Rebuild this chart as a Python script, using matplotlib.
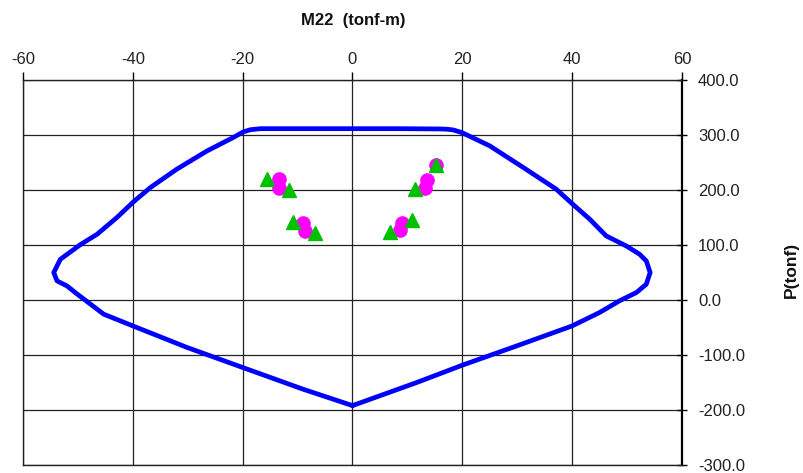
import matplotlib
matplotlib.use("Agg")
import matplotlib.pyplot as plt

plt.rcParams['font.family'] = ['Liberation Sans', 'DejaVu Sans']
plt.rcParams['axes.unicode_minus'] = False

# Interaction diagram outline (M22 in tonf-m, P in tonf)
curve_m = [0.0, 11.7, 20.0, 29.9, 40.0, 45.0, 48.6, 51.7, 53.5, 54.2, 53.5, 52.3,
           49.9, 46.2, 43.2, 40.1, 37.1, 31.1, 25.0, 19.9, 18.3, 17.2, 15.9, 8.6,
           0.0, -8.6, -16.8, -18.6, -19.9, -21.7, -26.5, -32.0, -36.8, -39.9,
           -42.9, -46.5, -49.5, -53.2, -54.4, -53.8, -52.0, -50.1, -45.3, -40.0,
           -30.1, -20.0, -9.0, 0.0]
curve_p = [-192.0, -150.0, -118.5, -83.5, -47.1, -22.7, -1.6, 13.6, 28.7, 50.0,
           71.0, 83.0, 98.0, 116.5, 146.9, 174.2, 201.5, 240.9, 280.2, 304.5,
           309.3, 310.5, 311.0, 311.5, 311.5, 311.5, 311.5, 309.6, 305.6, 295.5,
           271.0, 237.8, 204.5, 178.4, 150.0, 119.6, 101.0, 74.0, 50.0, 34.7,
           25.6, 10.5, -25.8, -47.1, -86.4, -122.7, -162.2, -192.0]

# Demand points
circle_m = [-13.4, -13.3, -8.95, -8.7, 15.2, 13.6, 13.2, 8.95, 8.6]
circle_p = [219.6, 204.5, 139.6, 125.6, 245.0, 218.4, 204.5, 139.6, 127.5]
tri_m = [-15.5, -11.5, -10.9, -6.8, 15.2, 11.4, 10.8, 6.8]
tri_p = [219.6, 200.2, 142.0, 122.7, 245.0, 201.5, 145.6, 123.8]

x_ticks = [-60, -40, -20, 0, 20, 40, 60]
y_ticks = [400, 300, 200, 100, 0, -100, -200, -300]

fig = plt.figure(figsize=(8.04, 4.73), dpi=100)
ax = fig.add_axes([23 / 804, 1 - 465 / 473, 659 / 804, 385 / 473])

ax.plot(curve_m, curve_p, color='#0000FF', lw=3.4, solid_joinstyle='round',
        solid_capstyle='round', zorder=3)
ax.plot(circle_m, circle_p, 'o', color='#FF00FF', ms=9.5, mec='#FF00FF', zorder=4)
ax.plot(tri_m, tri_p, '^', color='#00C000', ms=10.5, mec='#00C000', zorder=5)

ax.set_xlim(-60, 60)
ax.set_ylim(-300, 400)
ax.set_xticks(x_ticks)
ax.set_yticks(y_ticks)
ax.set_yticklabels([f"{v:.1f}" for v in y_ticks])

ax.xaxis.tick_top()
ax.yaxis.tick_right()
ax.tick_params(axis='x', direction='out', length=6, width=1, labelsize=12,
               labelcolor='#222222', pad=3)
ax.tick_params(axis='y', direction='inout', length=7, width=1, labelsize=12,
               labelcolor='#222222', pad=8)

ax.grid(True, color='#222222', lw=0.9)
ax.set_axisbelow(True)
for side in ['left', 'bottom', 'top']:
    ax.spines[side].set_color('#222222')
    ax.spines[side].set_linewidth(1.0)
ax.spines['right'].set_color('#000000')
ax.spines['right'].set_linewidth(1.6)

fig.text(353 / 804, 1 - 20 / 473, 'M22  (tonf-m)', ha='center', va='center',
         fontsize=12, fontweight='bold', color='#111111')
fig.text(791 / 804, 1 - 270 / 473, 'P(tonf)', ha='center', va='center',
         rotation=90, fontsize=12.5, fontweight='bold', color='#111111')

fig.savefig('out.png', dpi=100)
